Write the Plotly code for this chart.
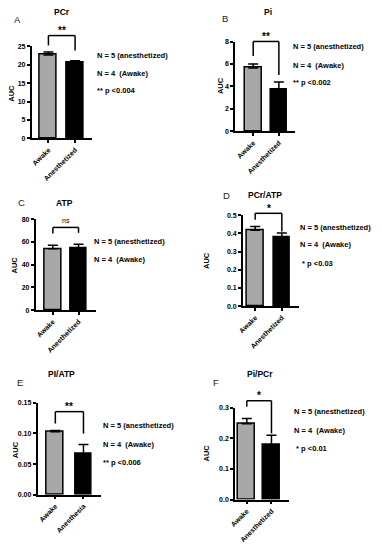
import plotly.graph_objects as go

W, H = 382, 550

# ---------------- data ----------------
groups_std = ["Awake", "Anesthetized"]
groups_e = ["Awake", "Anesthesia"]

pcr_mean = [22.7, 20.6]
pcr_sem = [0.8, 0.5]
pi_mean = [5.65, 3.7]
pi_sem = [0.35, 0.7]
atp_mean = [54.0, 54.5]
atp_sem = [3.0, 3.5]
pcr_atp_mean = [0.418, 0.378]
pcr_atp_sem = [0.020, 0.024]
pi_atp_mean = [0.103, 0.067]
pi_atp_sem = [0.002, 0.015]
pi_pcr_mean = [0.248, 0.178]
pi_pcr_sem = [0.017, 0.032]

titles = ["PCr", "Pi", "ATP", "PCr/ATP", "PI/ATP", "Pi/PCr"]
letters = ["A", "B", "C", "D", "E", "F"]
signif = ["**", "**", "ns", "*", "**", "*"]
pvals = ["** p <0.004", "** p <0.002", None, "\u00a0* p <0.03", "** p <0.006", "\u00a0* p <0.01"]
n_text = ["N = 5 (anesthetized)", "N = 4\u00a0\u00a0(Awake)"]

yticks = [
    [0, 5, 10, 15, 20, 25],
    [0, 2, 4, 6, 8],
    [0, 20, 40, 60, 80],
    [0.0, 0.1, 0.2, 0.3, 0.4, 0.5],
    [0.00, 0.05, 0.10, 0.15],
    [0.0, 0.1, 0.2, 0.3],
]
ytick_text = [
    ["0", "5", "10", "15", "20", "25"],
    ["0", "2", "4", "6", "8"],
    ["0", "20", "40", "60", "80"],
    ["0.0", "0.1", "0.2", "0.3", "0.4", "0.5"],
    ["0.00", "0.05", "0.10", "0.15"],
    ["0.0", "0.1", "0.2", "0.3"],
]

means = [pcr_mean, pi_mean, atp_mean, pcr_atp_mean, pi_atp_mean, pi_pcr_mean]
sems = [pcr_sem, pi_sem, atp_sem, pcr_atp_sem, pi_atp_sem, pi_pcr_sem]
cats = [groups_std, groups_std, groups_std, groups_std, groups_e, groups_std]

# ---------------- layout (pixel geometry) ----------------
geom = [
    dict(xl=27, xr=88, yb=136, yt=43, t0=44, t1=71),
    dict(xl=233, xr=294, yb=129, yt=38, t0=251.5, t1=277.5),
    dict(xl=31, xr=92, yb=310, yt=218, t0=48.5, t1=74.5),
    dict(xl=241, xr=298, yb=306, yt=214, t0=253.5, t1=280.5),
    dict(xl=33, xr=97, yb=497, yt=404, t0=51, t1=79.5),
    dict(xl=233, xr=288, yb=502, yt=409, t0=245, t1=270),
]
brk = [
    dict(gl=6.6, gr=10.5, rise=16.6),
    dict(gl=8, gr=7, rise=22.8),
    dict(gl=12, gr=11.5, rise=17),
    dict(gl=7, gr=1.5, rise=13.4),
    dict(gl=7, gr=11, rise=19),
    dict(gl=12, gr=2, rise=18),
]
title_pos = [(58, 8), (266, 8), (60, 202), (263, 193), (57, 375), (258, 375)]
letter_pos = [(13, 16), (223, 15), (17, 201), (224, 194), (15, 383), (214, 383)]
auc_pos = [(7, 90), (219, 83), (10, 264), (204, 260), (10, 451), (204, 455)]
side_pos = [(93, [52, 70, 88]), (292, [43, 62, 80]), (90, [241, 259]),
            (299, [226, 244, 263]), (99, [427, 446, 464]), (293, [413, 432, 450])]

FONT = "Liberation Sans, Arial, Helvetica, sans-serif"
GRAY = "#a8a8a8"

def px(x):
    return x / W

def py(y):
    return 1 - y / H

def ann(text, x, y, size, bold=True, xanchor="center", angle=0, color="black"):
    f = dict(family=FONT, size=size, color=color)
    if bold:
        f["weight"] = "bold"
    return dict(text=text, x=px(x), y=py(y), xref="paper", yref="paper",
                xanchor=xanchor, yanchor="middle", showarrow=False,
                textangle=angle, font=f, borderpad=0, borderwidth=0)

fig = go.Figure()
annotations = []
shapes = []

for i in range(6):
    g = geom[i]
    n = "" if i == 0 else str(i + 1)
    unit = g["t1"] - g["t0"]
    xr0 = (g["xl"] - g["t0"]) / unit
    xr1 = (g["xr"] - g["t0"]) / unit
    ymax = yticks[i][-1]
    bar_w = 17 / unit

    fig.add_trace(go.Bar(
        x=cats[i], y=means[i],
        xaxis="x" + n, yaxis="y" + n,
        width=bar_w,
        marker=dict(color=[GRAY, "black"], line=dict(color="black", width=1.5)),
        error_y=dict(type="data", array=sems[i], arrayminus=[0, 0], symmetric=False,
                     color="black", thickness=1.5, width=5),
        showlegend=False, hoverinfo="skip",
    ))

    fig.update_layout(**{
        "xaxis" + n: dict(
            domain=[px(g["xl"]), px(g["xr"])], anchor="y" + n,
            range=[xr0, xr1], showline=True, linecolor="black", linewidth=1.5,
            ticks="outside", ticklen=3, tickwidth=1.5, tickcolor="black",
            tickangle=-45, showgrid=False, zeroline=False,
            tickfont=dict(family=FONT, size=7, color="black", weight="bold"),
            fixedrange=True,
        ),
        "yaxis" + n: dict(
            domain=[py(g["yb"]), py(g["yt"])], anchor="x" + n,
            range=[0, ymax], showline=True, linecolor="black", linewidth=1.5,
            ticks="outside", ticklen=3, tickwidth=1.5, tickcolor="black",
            tickvals=yticks[i], ticktext=ytick_text[i],
            showgrid=False, zeroline=False,
            tickfont=dict(family=FONT, size=7, color="black", weight="bold"),
            fixedrange=True,
        ),
    })

    def vy(v, g=g, ymax=ymax):
        return g["yb"] - v / ymax * (g["yb"] - g["yt"])

    tops = [vy(m + s) for m, s in zip(means[i], sems[i])]
    b = brk[i]
    lb = tops[0] - b["gl"]
    rb = tops[1] - b["gr"]
    top = min(tops) - b["rise"]
    xs = [g["t0"], g["t1"]]
    line = dict(color="black", width=1.5)
    shapes.append(dict(type="line", xref="paper", yref="paper",
                       x0=px(xs[0]), x1=px(xs[0]), y0=py(lb), y1=py(top), line=line))
    shapes.append(dict(type="line", xref="paper", yref="paper",
                       x0=px(xs[1]), x1=px(xs[1]), y0=py(rb), y1=py(top), line=line))
    shapes.append(dict(type="line", xref="paper", yref="paper",
                       x0=px(xs[0]), x1=px(xs[1]), y0=py(top), y1=py(top), line=line))
    sig = signif[i]
    cx = (xs[0] + xs[1]) / 2
    if sig == "ns":
        annotations.append(ann("ns", cx, top - 7, 7, bold=False))
    else:
        annotations.append(ann(sig, cx, top - 5, 10))

    annotations.append(ann(titles[i], title_pos[i][0], title_pos[i][1], 8.5))
    annotations.append(ann(letters[i], letter_pos[i][0], letter_pos[i][1], 9.5, bold=False, color="#222"))
    annotations.append(ann("AUC", auc_pos[i][0], auc_pos[i][1], 7.5, angle=-90))

    lines = list(n_text) + ([pvals[i]] if pvals[i] else [])
    sx, sys_ = side_pos[i]
    for t, yy in zip(lines, sys_):
        annotations.append(ann(t, sx, yy, 7.5, xanchor="left"))

fig.update_layout(
    width=W, height=H, autosize=False,
    margin=dict(l=0, r=0, t=0, b=0),
    paper_bgcolor="white", plot_bgcolor="white",
    annotations=annotations, shapes=shapes,
    bargap=0,
)

fig.write_html("out.html", config={"displayModeBar": False},
               post_script="document.body.style.margin='0px';")
